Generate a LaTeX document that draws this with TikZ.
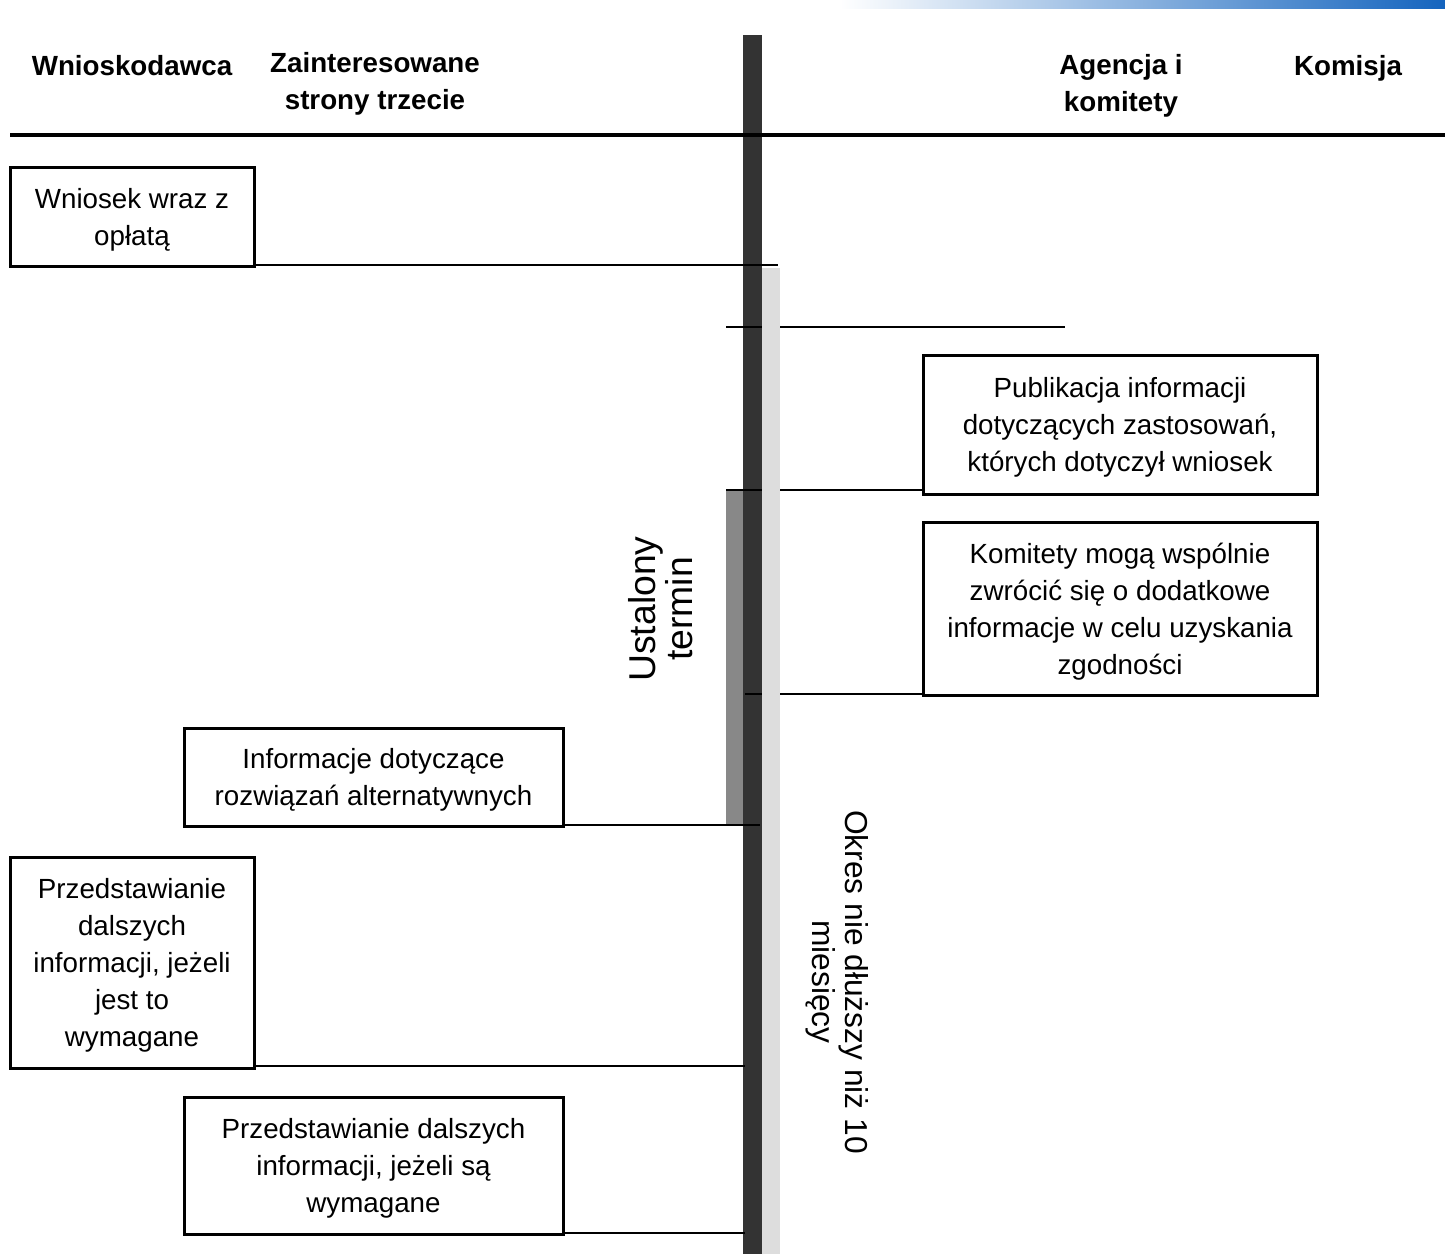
\documentclass[tikz,border=0pt]{standalone}
\usepackage{fontspec}
\setmainfont{Liberation Sans}
\usetikzlibrary{positioning}

\newcommand{\topgap}{\rule{0pt}{19.5pt}}

\tikzset{every picture/.style={line width=0.75pt}}
\tikzset{
  stagebox/.style={draw, line width=2.25pt, align=center, inner sep=0.75pt, font=\fontsize{20.8}{27.75}\selectfont},
  headtext/.style={align=center, inner sep=0.75pt, font=\fontsize{20.8}{27.75}\selectfont\bfseries},
  sidetext/.style={align=center, inner sep=0.75pt},
  link/.style={line width=1.5pt}
}

\begin{document}
\begin{tikzpicture}[x=0.75pt,y=0.75pt,yscale=-1,xscale=1]
\useasboundingbox (0,0) rectangle (1445,1254);

%Shape: Rectangle [id:top banner]
\shade [left color=white, right color={rgb, 255:red, 20; green, 100; blue, 190}] (840,0) rectangle (1445,8);

%Shape: Rectangle [id:medium bar]
\fill [fill={rgb, 255:red, 136; green, 136; blue, 136 }] (726,490) rectangle (745,825);
%Shape: Rectangle [id:dark bar]
\fill [fill={rgb, 255:red, 51; green, 51; blue, 51 }] (743,35) rectangle (762,1254);

% Text Node
\node [headtext] (applicant) at (132,66) {Wnioskodawca};
% Text Node
\node [headtext] (thirdparty) at (375,84) {Zainteresowane\\strony trzecie};
% Text Node
\node [headtext] (agency) at (1121,86) {Agencja i\\komitety};
% Text Node
\node [headtext] (commission) at (1348,68) {Komisja};

%Straight Lines [id:header rule]
\coordinate (ruleL) at (10,135);
\coordinate (ruleR) at (1445,135);
\draw [line width=3pt] (ruleL) -- (ruleR);

% Text Node
\node [stagebox, minimum width=183pt, minimum height=74.25pt] (request) at (132,216.5) {\topgap Wniosek wraz z\\opłatą};
% Text Node
\node [stagebox, minimum width=295.5pt, minimum height=104.25pt] (publish) at (1120,424.5) {\topgap Publikacja informacji\\dotyczących zastosowań,\\których dotyczył wniosek};
% Text Node
\node [stagebox, minimum width=295.5pt, minimum height=129.75pt] (committees) at (1120,608.5) {\topgap Komitety mogą wspólnie\\zwrócić się o dodatkowe\\informacje w celu uzyskania\\zgodności};
% Text Node
\node [stagebox, minimum width=284.25pt, minimum height=73.5pt] (alternatives) at (373.5,777) {\topgap Informacje dotyczące\\rozwiązań alternatywnych};
% Text Node
\node [stagebox, minimum width=183pt, minimum height=158.25pt] (furtherA) at (132,962.5) {\topgap Przedstawianie\\dalszych\\informacji, jeżeli\\jest to\\wymagane};
% Text Node
\node [stagebox, minimum width=284.25pt, minimum height=102.75pt] (furtherB) at (373.5,1165.5) {\topgap Przedstawianie dalszych\\informacji, jeżeli są\\wymagane};

%Straight Lines
\coordinate (reqEnd) at (778,265);
\coordinate (markL) at (726,327);
\coordinate (markR) at (1065,327);
\coordinate (pubEnd) at (726,490);
\coordinate (komEnd) at (745,694);
\coordinate (altEnd) at (760,825);
\coordinate (furAEnd) at (745,1066);
\coordinate (furBEnd) at (745,1233);
\draw [link] (request.east |- reqEnd) -- (reqEnd);
\draw [link] (markL) -- (markR);
\draw [link] (pubEnd) -- (pubEnd -| publish.west);
\draw [link] (komEnd) -- (komEnd -| committees.west);
\draw [link] (alternatives.east |- altEnd) -- (altEnd);
\draw [link] (furtherA.east |- furAEnd) -- (furAEnd);
\draw [link] (furtherB.east |- furBEnd) -- (furBEnd);

%Shape: Rectangle [id:light bar]
\fill [fill={rgb, 255:red, 221; green, 221; blue, 221 }] (762,268) rectangle (780,1254);

% Text Node
\node [sidetext, rotate=90, font=\fontsize{28}{27.75}\selectfont] (fixedterm) at (661,609) {Ustalony\\termin};
% Text Node
\node [sidetext, rotate=-90, font=\fontsize{23.8}{24.75}\selectfont] (period) at (837,982) {Okres nie dłuższy niż 10\\miesięcy};

\end{tikzpicture}
\end{document}
